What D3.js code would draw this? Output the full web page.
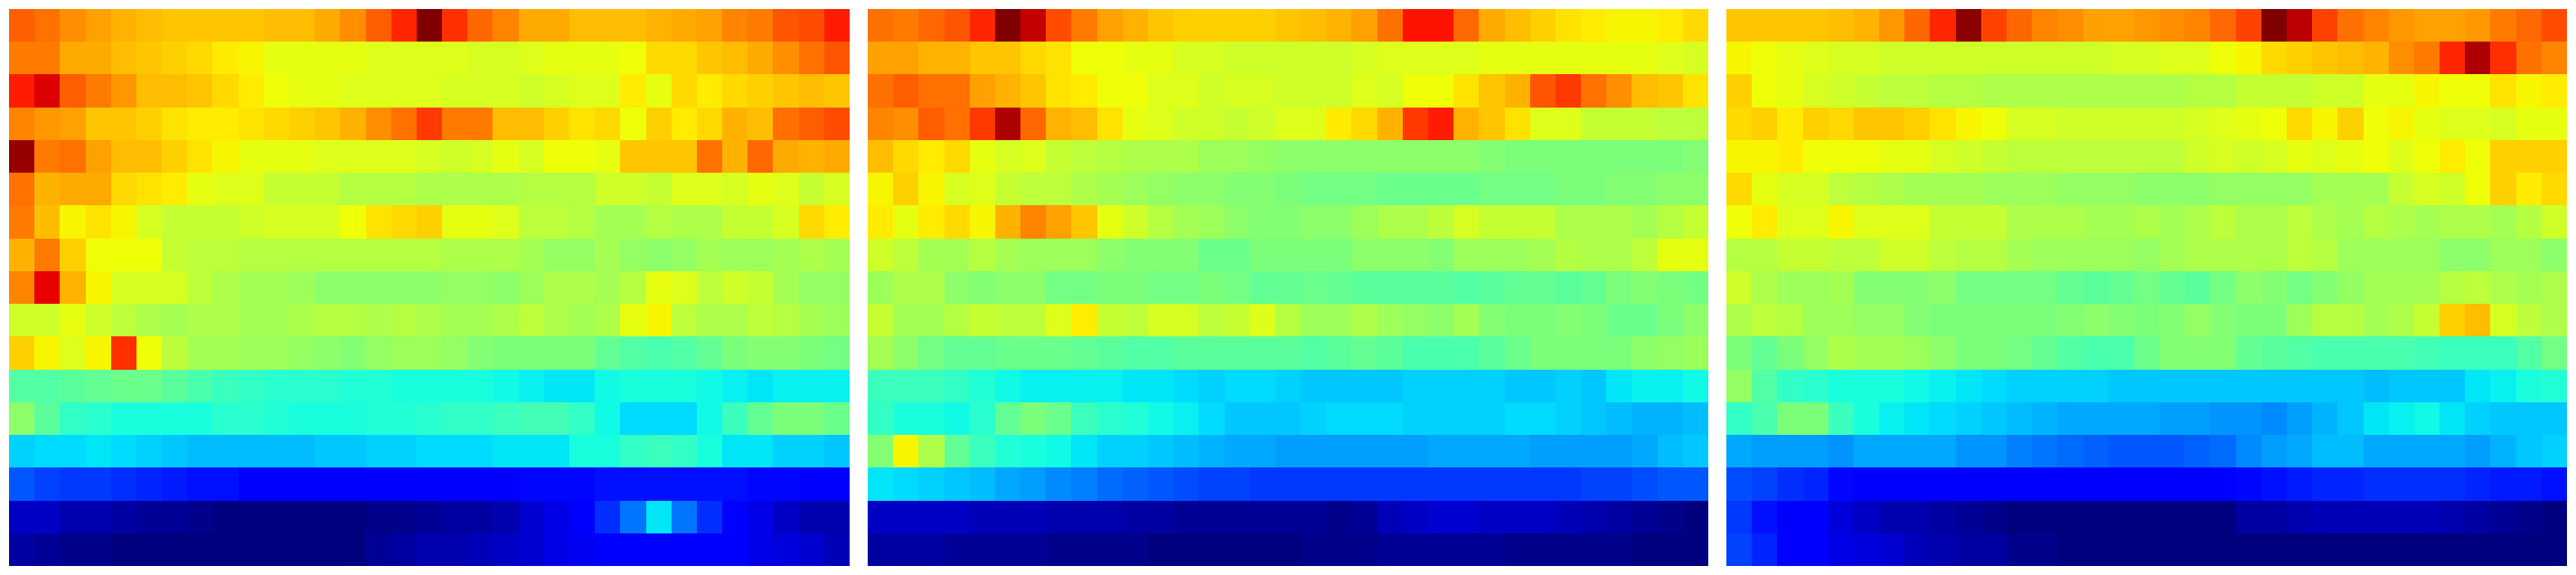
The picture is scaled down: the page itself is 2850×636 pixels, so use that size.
<!DOCTYPE html>
<html><head><meta charset="utf-8">
<style>html,body{margin:0;padding:0;background:#fff}svg{display:block}</style>
<script src="https://cdnjs.cloudflare.com/ajax/libs/d3/7.8.5/d3.min.js"></script>
</head><body><svg id="c" width="2850" height="636"></svg>
<script>
const panelA = [
[81,79,76,74,72,71,70,70,70,70,71,71,73,76,81,87,100,86,80,77,73,73,71,71,71,72,73,74,77,78,82,83,88],
[78,78,73,73,71,70,69,68,66,65,63,63,63,63,62,62,62,62,61,61,62,63,63,63,64,68,68,70,71,73,76,79,82],
[88,92,81,78,75,71,71,70,68,66,64,63,63,62,62,62,62,61,61,61,60,61,62,62,66,63,68,66,68,69,70,71,70],
[77,75,74,70,70,69,67,66,66,67,68,69,70,72,76,79,85,78,78,71,71,69,67,68,64,69,66,68,72,71,79,81,83],
[98,78,79,74,71,71,69,67,65,63,63,63,62,62,62,62,61,60,61,63,61,64,64,63,70,70,70,79,72,80,73,72,73],
[79,72,73,73,68,67,66,63,62,62,59,59,59,57,57,57,56,56,56,56,57,57,57,60,60,59,62,62,61,63,62,59,61],
[78,71,65,67,65,61,59,59,59,60,61,61,61,64,67,68,69,63,63,62,58,58,57,55,55,57,56,56,59,59,61,68,66],
[72,78,69,64,64,64,59,58,58,57,57,57,57,57,57,57,57,56,56,56,55,53,53,55,53,52,53,55,54,54,55,56,55],
[77,91,72,65,61,61,61,58,56,55,55,54,52,52,52,52,52,53,53,52,54,56,56,55,57,63,62,58,60,59,55,53,53],
[60,60,63,60,58,56,55,56,56,55,55,56,57,57,56,57,56,55,55,56,58,56,55,56,63,65,58,56,56,58,57,55,54],
[69,65,62,65,86,64,58,55,55,54,54,53,52,51,53,54,54,53,51,50,50,50,50,47,45,44,45,47,50,51,51,50,49],
[45,45,46,47,48,48,46,44,42,41,40,40,40,39,39,38,38,38,38,37,36,35,35,37,38,38,38,37,36,35,36,36,36],
[52,46,41,40,38,38,38,38,40,40,39,38,38,38,39,39,40,41,41,42,43,43,41,37,34,34,34,37,42,47,50,50,48],
[33,34,34,35,34,33,32,31,31,31,31,31,32,32,33,33,34,34,34,35,35,35,38,38,41,42,41,38,35,35,33,33,32],
[21,19,18,18,17,16,15,14,14,12,12,12,12,12,12,12,12,12,12,12,13,13,13,14,14,14,14,14,14,13,13,12,12],
[6,6,4,4,3,2,2,1,0,0,0,0,0,0,1,1,2,3,3,4,7,9,11,17,24,35,24,17,11,9,6,4,4],
[3,2,1,1,0,0,0,0,0,0,0,0,0,0,2,3,4,4,5,6,7,9,10,11,11,11,11,11,11,9,8,7,5]
];
const panelB = [
[79,78,80,82,87,100,94,83,78,74,72,70,69,69,69,69,70,71,72,74,79,89,89,80,73,71,69,67,66,65,65,66,68],
[74,74,72,72,70,70,68,67,64,64,63,63,61,61,60,60,60,60,60,61,62,62,62,62,63,63,63,63,63,63,63,62,61],
[79,81,79,79,74,72,70,67,66,64,64,62,62,60,61,61,60,60,60,62,61,64,64,67,70,72,82,85,79,76,71,70,67],
[77,76,81,79,85,96,80,72,71,67,63,62,60,60,59,60,62,62,66,68,72,85,88,72,70,67,62,62,59,59,59,58,58],
[71,68,66,68,63,61,62,59,58,57,56,56,56,54,54,53,52,52,52,52,52,52,52,52,51,50,50,50,50,50,50,50,51],
[65,69,65,61,62,59,58,58,56,55,54,53,52,52,51,51,50,49,49,49,48,48,48,48,49,49,49,50,50,51,51,52,52],
[66,63,66,68,65,72,77,74,70,63,60,57,55,54,52,51,51,52,52,54,56,56,58,61,59,59,59,56,56,56,55,57,59],
[60,58,55,55,57,55,54,54,54,52,51,51,51,48,48,50,50,50,50,52,52,52,51,54,54,54,55,57,56,56,58,63,63],
[54,56,56,52,51,52,52,49,49,50,50,49,49,50,49,47,47,48,47,46,46,46,46,45,46,47,47,46,47,50,51,50,49],
[59,55,55,57,59,58,58,62,66,59,58,61,61,58,59,62,57,54,54,56,54,53,52,55,51,50,50,51,50,48,48,50,52],
[55,52,49,47,47,48,48,48,47,46,45,45,46,46,46,46,46,45,46,47,46,44,44,44,46,48,50,50,50,50,52,53,54],
[42,42,42,41,39,37,36,36,36,36,35,35,34,33,34,34,33,32,32,32,32,33,33,33,33,32,32,33,32,35,36,36,37],
[41,38,38,37,40,47,50,48,42,40,39,37,36,34,32,32,32,33,34,34,34,33,33,33,33,34,34,33,32,31,30,30,31],
[51,65,56,47,42,39,38,37,35,33,33,32,31,30,29,29,28,28,28,28,28,28,29,29,29,29,28,28,28,28,29,31,32],
[35,34,33,32,31,29,28,26,25,23,22,21,20,19,19,18,18,18,18,18,18,18,18,18,18,18,18,18,19,19,20,21,21],
[6,6,6,6,5,5,5,4,4,4,3,3,2,2,2,2,2,2,1,2,5,6,7,7,6,6,6,5,4,3,2,1,0],
[3,3,3,2,2,2,2,1,1,1,1,0,0,0,0,0,0,1,1,1,2,2,2,2,2,1,1,1,1,1,0,0,0]
];
const panelC = [
[70,70,70,70,71,72,75,80,87,99,84,80,77,76,74,74,75,76,77,80,84,100,95,84,79,77,75,74,74,75,78,80,83],
[65,64,63,62,61,61,60,60,60,60,60,60,60,60,60,61,61,62,62,64,65,68,69,70,71,72,76,78,87,96,86,79,77],
[69,64,63,61,60,59,58,58,57,57,56,56,56,56,56,56,56,56,57,57,59,59,59,60,60,63,63,65,64,64,67,65,66],
[68,69,66,69,68,70,70,69,67,65,64,61,61,60,60,60,60,60,61,62,63,64,68,65,69,64,65,63,62,62,61,63,63],
[65,65,66,64,64,64,63,63,61,60,59,58,58,58,58,58,58,58,60,61,60,61,63,62,63,64,62,64,66,64,69,69,69],
[68,63,61,61,58,57,56,55,55,55,54,54,54,53,53,53,52,52,52,53,53,53,53,55,55,55,59,61,60,64,69,66,68],
[64,66,62,62,65,62,62,62,59,59,59,56,56,56,55,55,56,55,56,58,56,56,58,56,55,57,56,55,56,56,55,57,60],
[57,57,59,59,58,58,60,60,58,57,57,55,54,54,54,54,53,55,56,56,56,56,58,57,54,54,54,54,52,52,54,54,52],
[60,56,54,54,55,51,51,51,52,49,49,49,49,47,46,47,49,47,46,49,52,51,49,51,53,55,55,55,57,58,56,55,56],
[56,58,57,54,54,53,53,51,50,50,50,50,50,51,52,51,50,51,53,51,50,50,54,57,57,55,56,59,69,71,61,58,56],
[50,47,50,53,56,55,55,54,52,50,50,49,47,45,44,44,48,51,51,51,47,46,45,44,44,44,44,43,42,42,42,45,49],
[53,45,41,40,38,38,38,37,36,35,34,33,33,33,33,32,32,32,32,32,32,32,32,32,32,31,32,32,32,35,36,38,39],
[41,44,50,50,42,38,36,35,34,33,32,31,30,29,29,29,29,28,28,27,27,26,28,30,32,35,36,37,35,33,32,32,32],
[29,28,28,28,27,29,29,29,29,27,27,25,24,23,22,21,21,21,22,23,26,28,29,31,31,29,29,29,29,28,30,32,33],
[20,19,17,16,13,12,12,12,12,12,12,12,12,12,12,12,12,12,12,12,13,14,15,16,16,17,17,17,17,16,15,15,14],
[18,14,12,11,8,6,4,4,3,2,1,0,0,0,0,0,0,0,0,0,3,3,4,5,5,5,5,5,4,3,2,1,0],
[19,16,12,11,9,8,7,5,4,3,3,1,1,0,0,0,0,0,0,0,0,0,0,0,0,0,0,0,0,0,0,0,0]
];
const panels = [panelA, panelB, panelC];

const jetR = d3.scaleLinear().domain([0,35,66,89,100]).range([0,0,255,255,128]).clamp(true);
const jetG = d3.scaleLinear().domain([0,12.5,37.5,64,91,100]).range([0,0,255,255,0,0]).clamp(true);
const jetB = d3.scaleLinear().domain([0,11,34,65,100]).range([127,255,255,0,0]).clamp(true);
const jet = v => d3.rgb(jetR(v), jetG(v), jetB(v)).formatRgb();

const W = 2850, H = 636;
const fx = d3.scaleBand().domain(d3.range(panels.length)).range([0, W]).paddingInner(20/950).paddingOuter(10/950);
const y = d3.scaleBand().domain(d3.range(17)).range([10, 626]);
const x = d3.scaleBand().domain(d3.range(33)).range([0, fx.bandwidth()]);

const svg = d3.select("#c");
const g = svg.selectAll("g").data(panels).join("g")
  .attr("transform", (d,i) => `translate(${fx(i)},0)`);
g.selectAll("g").data(d => d).join("g")
  .attr("data-row", (d,i) => i)
  .each(function(row, r){
    d3.select(this).selectAll("rect").data(row).join("rect")
      .attr("x", (d,c) => x(c))
      .attr("y", y(r))
      .attr("width", x.bandwidth()+0.3)
      .attr("height", y.bandwidth()+0.3)
      .attr("shape-rendering","crispEdges")
      .attr("fill", d => jet(d));
  });
</script></body></html>
